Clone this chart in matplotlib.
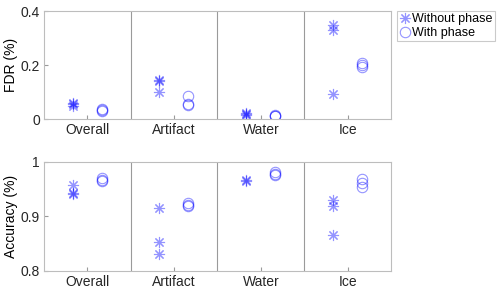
import matplotlib.pyplot as plt
import numpy as np

plt.rcParams['font.family'] = ['Liberation Sans', 'DejaVu Sans']

# Categorias e valores
categorias = ['Overall', 'Artifact', 'Water', 'Ice']

fdr_sem_fase = [
    [0.050, 0.055, 0.060],
    [0.140, 0.145, 0.101],
    [0.015, 0.018, 0.021],
    [0.348, 0.330, 0.094],
]
fdr_com_fase = [
    [0.030, 0.033, 0.036],
    [0.086, 0.056, 0.053],
    [0.011, 0.012, 0.014],
    [0.206, 0.200, 0.194],
]
acc_sem_fase = [
    [0.957, 0.943, 0.940],
    [0.915, 0.853, 0.830],
    [0.965, 0.967],
    [0.930, 0.919, 0.865],
]
acc_com_fase = [
    [0.970, 0.967, 0.965],
    [0.924, 0.921, 0.919],
    [0.981, 0.977, 0.975],
    [0.968, 0.960, 0.953],
]

fdr_ticks = [0, 0.2, 0.4]
fdr_ticklabels = ['0', '0.2', '0.4']
acc_ticks = [0.8, 0.9, 1.0]
acc_ticklabels = ['0.8', '0.9', '1']

COR = (0, 0, 1, 0.42)
ASTERISCO = (8, 2, 0)

fig = plt.figure(figsize=(5.0, 2.95), dpi=100)
ax_fdr = fig.add_axes([0.088, 0.5966, 0.694, 0.366])
ax_acc = fig.add_axes([0.088, 0.0824, 0.694, 0.3696])


def desenha(ax, sem, com, ylim, ticks, ticklabels, ylabel):
    x = np.arange(1, len(categorias) + 1)
    for i, xi in enumerate(x):
        ax.plot([xi - 0.17] * len(sem[i]), sem[i], linestyle='none',
                marker=ASTERISCO, markersize=8, markeredgewidth=0.8,
                color=COR, label='Without phase' if i == 0 else None)
        ax.plot([xi + 0.165] * len(com[i]), com[i], linestyle='none',
                marker='o', markersize=7.5, markeredgewidth=0.8,
                markerfacecolor='none', markeredgecolor=COR,
                label='With phase' if i == 0 else None)
    for d in [1.5, 2.5, 3.5]:
        ax.axvline(d, color='#9a9a9a', linewidth=0.8)
    ax.set_xlim(0.5, 4.5)
    ax.set_ylim(*ylim)
    ax.set_xticks(x)
    ax.set_xticklabels(categorias, fontsize=10)
    ax.set_yticks(ticks)
    ax.set_yticklabels(ticklabels, fontsize=10)
    ax.set_ylabel(ylabel, fontsize=10, labelpad=2)
    ax.tick_params(direction='in', length=3, color='#9a9a9a', pad=3,
                   labelcolor='#262626')
    for s in ax.spines.values():
        s.set_color('#bdbdbd')
        s.set_linewidth(0.8)


desenha(ax_fdr, fdr_sem_fase, fdr_com_fase, (0, 0.4), fdr_ticks,
        fdr_ticklabels, 'FDR (%)')
desenha(ax_acc, acc_sem_fase, acc_com_fase, (0.8, 1.0), acc_ticks,
        acc_ticklabels, 'Accuracy (%)')

leg = ax_fdr.legend(loc='upper left', fontsize=9, frameon=True,
                    fancybox=False, handlelength=0.9, handletextpad=0.15,
                    borderpad=0.2, labelspacing=0.15, borderaxespad=0)
leg.get_frame().set_edgecolor('#bdbdbd')
leg.get_frame().set_linewidth(0.8)
leg.set_bbox_to_anchor((0.793, 0.964), transform=fig.transFigure)

fig.savefig('out.png', dpi=100)
